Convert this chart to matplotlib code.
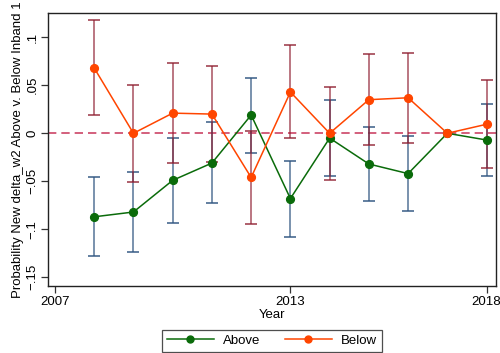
import matplotlib.pyplot as plt
import numpy as np

plt.rcParams['font.family'] = ['Liberation Sans', 'DejaVu Sans']

years = [2008, 2009, 2010, 2011, 2012, 2013, 2014, 2015, 2016, 2017, 2018]

above = [-0.087, -0.082, -0.049, -0.031, 0.019, -0.068, -0.005, -0.032, -0.042, 0.0, -0.007]
above_hi = [-0.046, -0.040, -0.005, 0.0115, 0.058, -0.0285, 0.035, 0.007, -0.003, None, 0.031]
above_lo = [-0.128, -0.124, -0.093, -0.073, -0.021, -0.108, -0.045, -0.071, -0.081, None, -0.045]

below = [0.068, 0.0, 0.021, 0.020, -0.046, 0.043, 0.0, 0.035, 0.037, 0.0, 0.0094]
below_hi = [0.118, 0.0507, 0.0736, 0.0698, 0.0028, 0.0917, 0.048, 0.083, 0.084, None, 0.055]
below_lo = [0.0187, -0.0507, -0.031, -0.030, -0.094, -0.0049, -0.0486, -0.012, -0.0098, None, -0.036]

xticks = [2007, 2013, 2018]
yticks = [-0.15, -0.1, -0.05, 0, 0.05, 0.1]
ylabels = ['\u2212.15', '\u2212.1', '\u2212.05', '0', '.05', '.1']


def ci(x, lo, hi):
    xs = [a for a, l in zip(x, lo) if l is not None]
    los = np.array([l for l in lo if l is not None])
    his = np.array([h for h in hi if h is not None])
    return np.array(xs), los, his


fig = plt.figure(figsize=(5, 3.53), dpi=100)
ax = fig.add_axes([0.0966, 0.19, 0.8954, 0.774])

ax.axhline(0, color='#cc4466', ls=(0, (5, 3)), lw=1.2, zorder=1)

# confidence intervals
xa, la, ha = ci(years, above_lo, above_hi)
ax.vlines(xa, la, ha, color='#2f5580', alpha=0.75, lw=1.2, zorder=2)
ax.plot(xa, la, ls='none', marker='_', ms=8, mew=1.4, color='#2f5580', alpha=0.75, zorder=2)
ax.plot(xa, ha, ls='none', marker='_', ms=8, mew=1.4, color='#2f5580', alpha=0.75, zorder=2)

xb, lb, hb = ci(years, below_lo, below_hi)
ax.vlines(xb, lb, hb, color='#8e1c2e', alpha=0.7, lw=1.2, zorder=2)
ax.plot(xb, lb, ls='none', marker='_', ms=8, mew=1.4, color='#8e1c2e', alpha=0.7, zorder=2)
ax.plot(xb, hb, ls='none', marker='_', ms=8, mew=1.4, color='#8e1c2e', alpha=0.7, zorder=2)

ax.plot(years, above, color='#0a6b0a', lw=1.1, marker='o', ms=5.6, label='Above', zorder=3)
ax.plot(years, below, color='#ff4500', lw=1.1, marker='o', ms=5.6, label='Below', zorder=3)

ax.set_xlim(2006.83, 2018.24)
ax.set_ylim(-0.159, 0.1256)
ax.set_xticks(xticks)
ax.set_xticklabels([str(t) for t in xticks], fontsize=9.5)
ax.set_yticks(yticks)
ax.set_yticklabels(ylabels, fontsize=9.5, rotation=90, va='center')
ax.tick_params(direction='out', length=5, width=0.9, color='#333333', pad=2)
for s in ax.spines.values():
    s.set_color('#222222')
    s.set_linewidth(1.0)

ax.set_xlabel('Year', fontsize=9.5, labelpad=1)
ax.set_ylabel('Probability New delta_w2 Above v. Below Inband 1', fontsize=9.5, labelpad=2)

leg = fig.legend(loc='center', bbox_to_anchor=(0.544, 0.034), ncol=2, fontsize=9.5,
                 frameon=True, fancybox=False, edgecolor='#222222', handlelength=3.6,
                 columnspacing=1.8, borderpad=0.35, handletextpad=0.7)
leg.get_frame().set_linewidth(0.9)
for h in leg.legend_handles:
    h.set_markersize(5)

fig.savefig('out.png', dpi=100)
